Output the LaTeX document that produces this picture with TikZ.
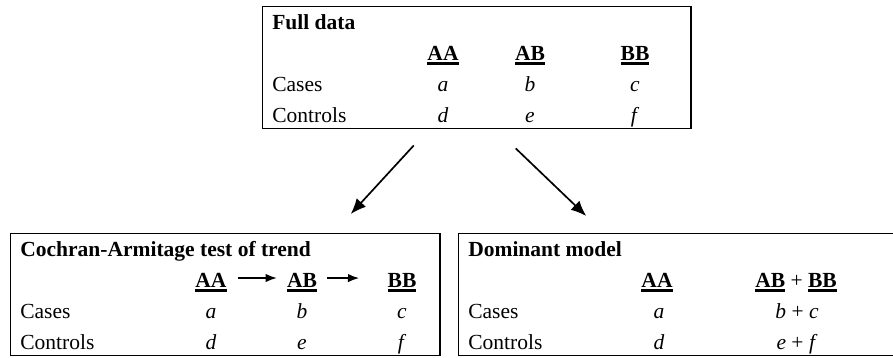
\documentclass[tikz,border=0pt]{standalone}
\usepackage{fontspec}
\setmainfont{Liberation Serif}
\usetikzlibrary{arrows.meta}
\usetikzlibrary{calc}
\newcommand{\tablefont}{\fontsize{15.3}{18}\selectfont}
\newcommand{\genotype}[1]{\setbox0\hbox{\textbf{#1}}\rlap{\raisebox{-3.3pt}{\rule{\wd0}{1.9pt}}}\box0\relax}
\tikzstyle{panel}=[draw, line width=1pt, inner sep=0pt, anchor=north west]
\tikzstyle{row label}=[anchor=base west, inner sep=0pt]
\tikzstyle{cell}=[anchor=base, inner sep=0pt]
\tikzstyle{title}=[row label, font=\tablefont\bfseries]
\tikzstyle{branch}=[line width=1.2pt, -{Latex[length=11pt,width=9pt]}]
\tikzstyle{trend}=[line width=1.2pt, -{Latex[length=8pt,width=6pt]}]

\begin{document}
\begin{tikzpicture}[x=0.025cm, y=-0.025cm, font=\tablefont]
  \useasboundingbox (0,0) rectangle (893,357);
  % full data
  \node[panel, minimum width=10.7cm, minimum height=3.05cm] (full) at (262,6) {};
  \node[title] (fullT) at (272,29) {Full data};
  \node[cell] (fAA) at (443,60) {\genotype{AA}};
  \node[cell] (fAB) at (530,60) {\genotype{AB}};
  \node[cell] (fBB) at (635,60) {\genotype{BB}};
  \node[row label] (fCase) at (272,91) {Cases};
  \node[cell] (fa) at (443,91) {\textit{a}};
  \node[cell] (fb) at (530,91) {\textit{b}};
  \node[cell] (fc) at (635,91) {\textit{c}};
  \node[row label] (fCtrl) at (272,122) {Controls};
  \node[cell] (fd) at (443,122) {\textit{d}};
  \node[cell] (fe) at (530,122) {\textit{e}};
  \node[cell] (ff) at (635,122) {\textit{f}};

  % trend test
  \node[panel, minimum width=10.725cm, minimum height=3.05cm] (trend) at (10,233) {};
  \node[title] (trendT) at (20,256) {Cochran-Armitage test of trend};
  \node[cell] (tAA) at (211,287) {\genotype{AA}};
  \node[cell] (tAB) at (302,287) {\genotype{AB}};
  \node[cell] (tBB) at (402,287) {\genotype{BB}};
  \node[row label] (tCase) at (20,318) {Cases};
  \node[cell] (ta) at (211,318) {\textit{a}};
  \node[cell] (tb) at (302,318) {\textit{b}};
  \node[cell] (tc) at (402,318) {\textit{c}};
  \node[row label] (tCtrl) at (20,349) {Controls};
  \node[cell] (td) at (211,349) {\textit{d}};
  \node[cell] (te) at (302,349) {\textit{e}};
  \node[cell] (tf) at (402,349) {\textit{f}};
  \draw[trend] ([xshift=8pt, yshift=3pt]tAA.east) -- ([xshift=-7pt, yshift=3pt]tAB.west);
  \draw[trend] ([xshift=7pt, yshift=3pt]tAB.east) -- ([xshift=-20pt, yshift=3pt]tBB.west);

  % dominant model
  \node[panel, minimum width=11.3cm, minimum height=3.05cm] (dom) at (458,233) {};
  \node[title] (domT) at (468,256) {Dominant model};
  \node[cell] (dAA) at (657,287) {\genotype{AA}};
  \node[cell] (dRest) at (796,287) {\genotype{AB} + \genotype{BB}};
  \node[row label] (dCase) at (468,318) {Cases};
  \node[cell] (da) at (659,318) {\textit{a}};
  \node[cell] (dbc) at (797,318) {\textit{b} + \textit{c}};
  \node[row label] (dCtrl) at (468,349) {Controls};
  \node[cell] (dd) at (659,349) {\textit{d}};
  \node[cell] (def) at (797,349) {\textit{e} + \textit{f}};

  \draw[branch] ($(full.south)+(-63,16)$) -- ($(trend.north)+(125.5,-19)$);
  \draw[branch] ($(full.south)+(39,19)$) -- ($(dom.north)+(-98.5,-17)$);
\end{tikzpicture}
\end{document}
